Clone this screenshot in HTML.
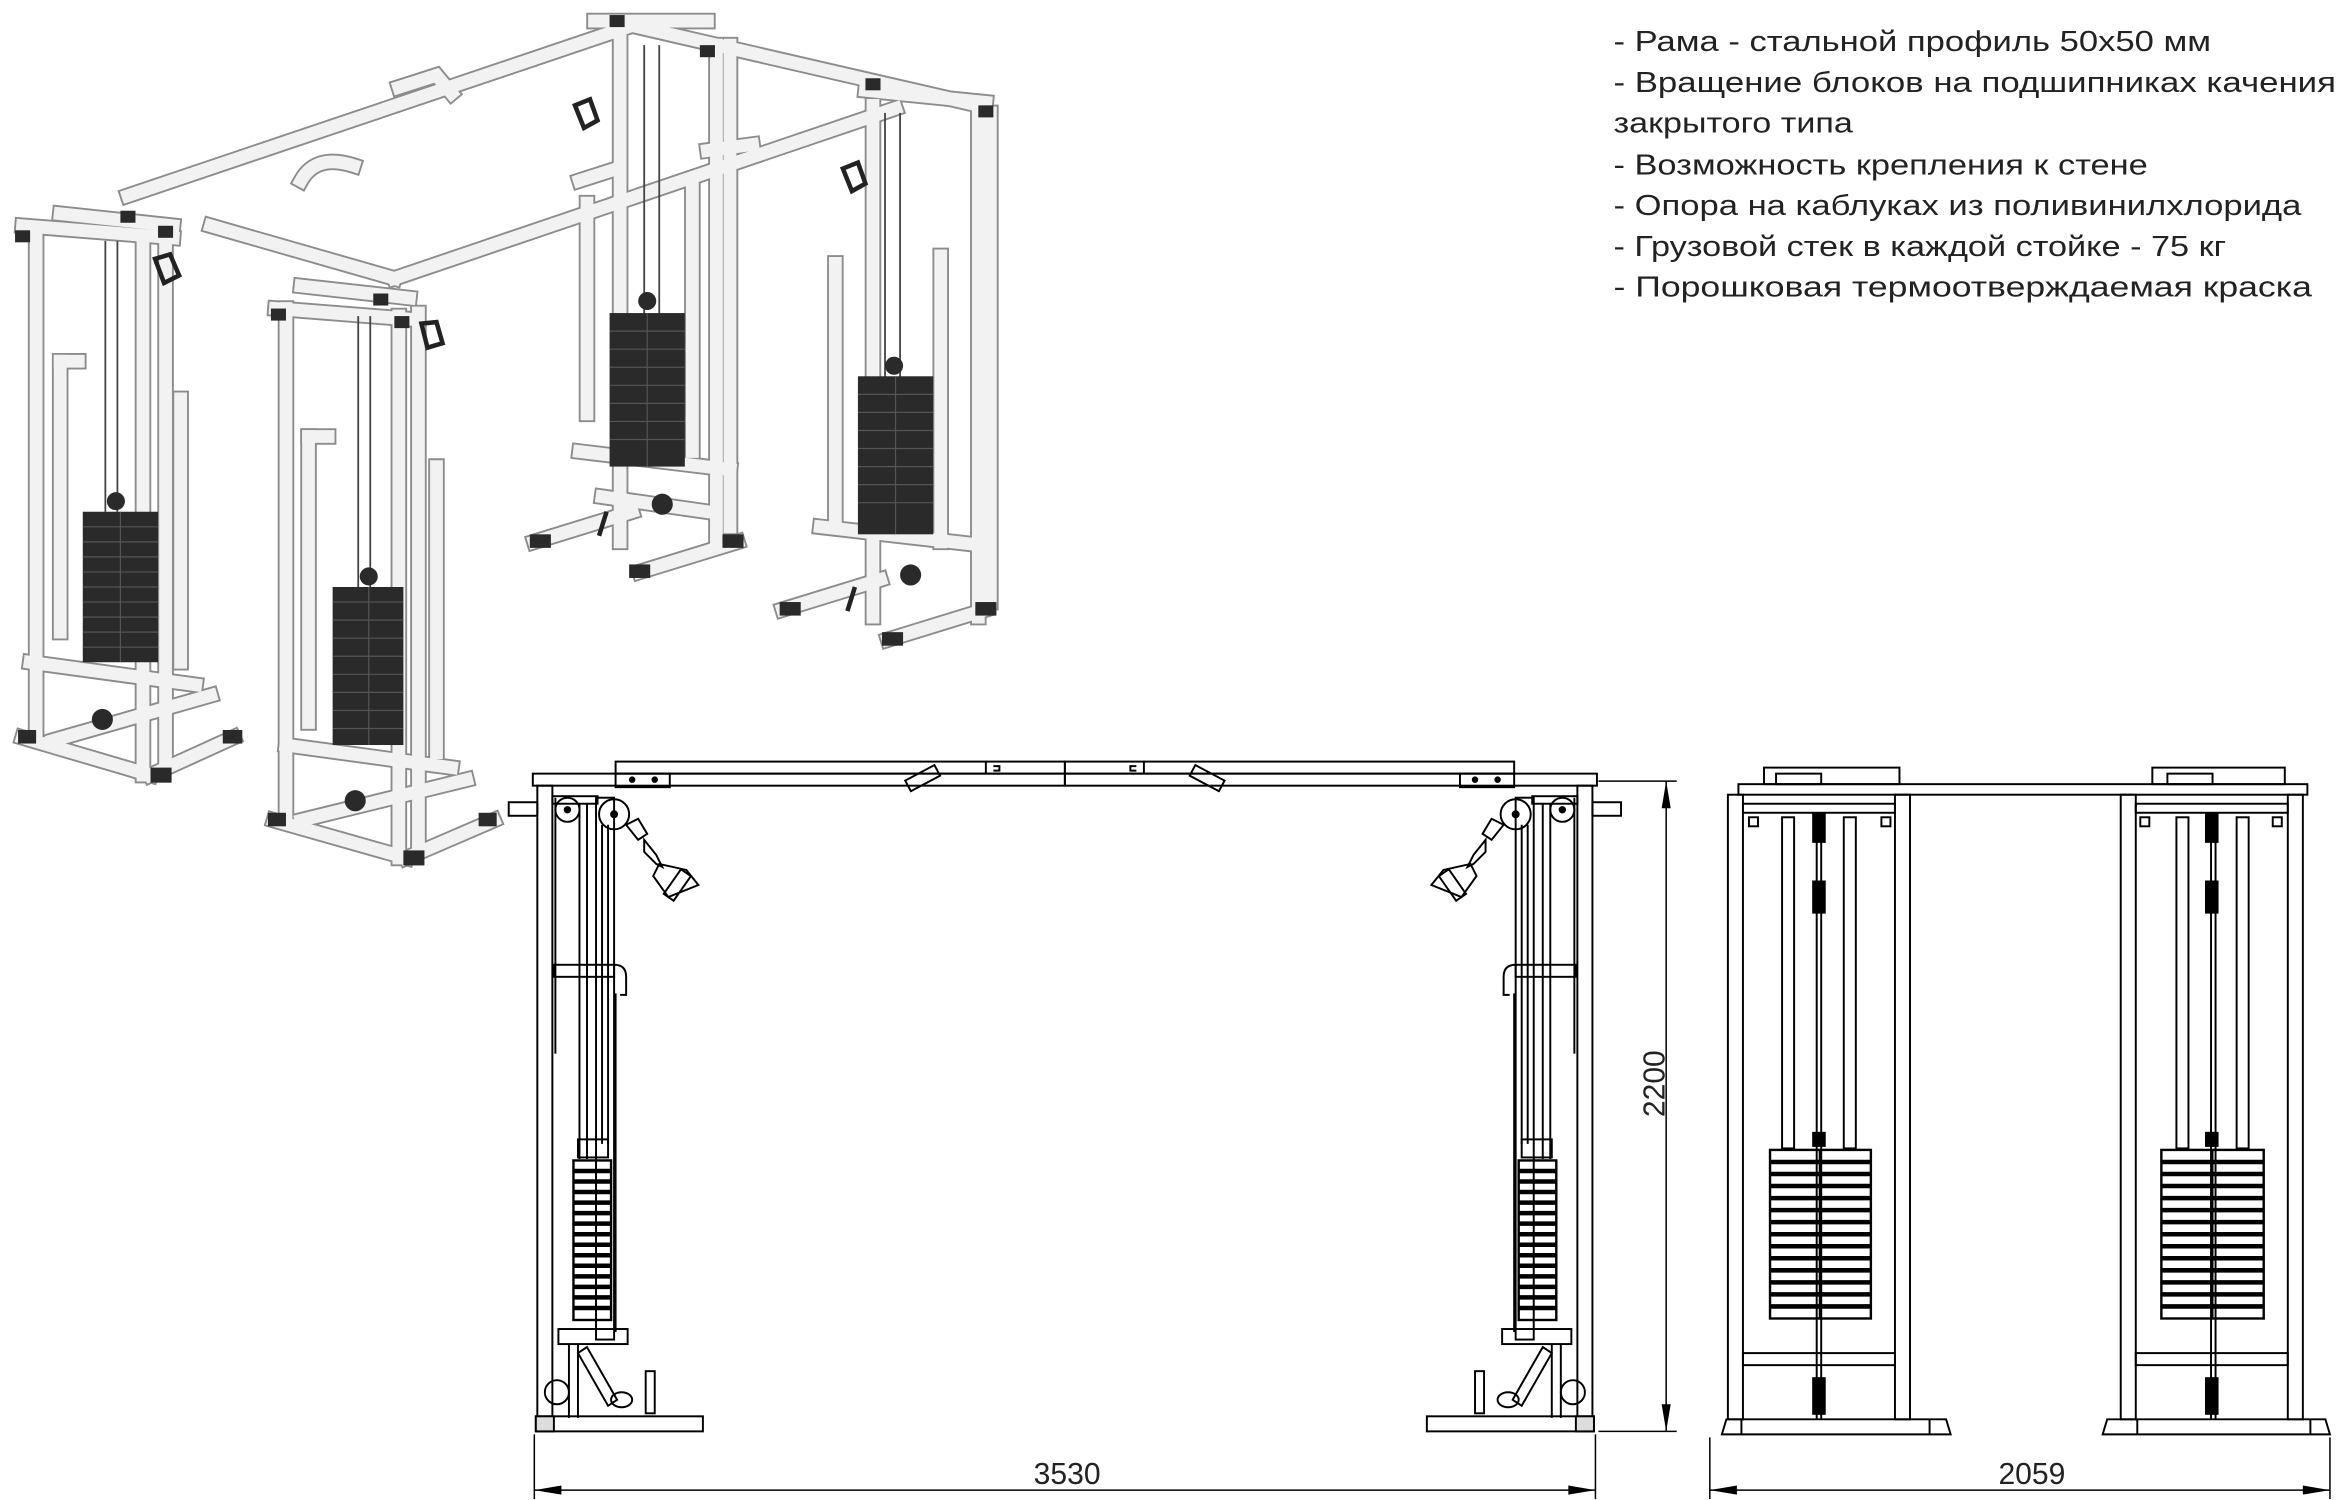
<!DOCTYPE html>
<html><head><meta charset="utf-8"><style>
html,body{margin:0;padding:0;background:#fff;}
svg{display:block;}
</style></head><body>
<svg width="2348" height="1500" viewBox="0 0 1560 996.6" preserveAspectRatio="none" xmlns="http://www.w3.org/2000/svg" xmlns:xlink="http://www.w3.org/1999/xlink">
<rect width="1560" height="997" fill="#fff"/>

<!-- ===== SPEC TEXT ===== -->
<g font-family="Liberation Sans, sans-serif" font-size="19" fill="#222">
<text x="1072" y="34" textLength="397" lengthAdjust="spacingAndGlyphs">- Рама - стальной профиль 50х50 мм</text>
<text x="1072" y="61" textLength="480" lengthAdjust="spacingAndGlyphs">- Вращение блоков на подшипниках качения</text>
<text x="1072" y="88" textLength="159" lengthAdjust="spacingAndGlyphs">закрытого типа</text>
<text x="1072" y="116" textLength="355" lengthAdjust="spacingAndGlyphs">- Возможность крепления к стене</text>
<text x="1072" y="143" textLength="457" lengthAdjust="spacingAndGlyphs">- Опора на каблуках из поливинилхлорида</text>
<text x="1072" y="170" textLength="407" lengthAdjust="spacingAndGlyphs">- Грузовой стек в каждой стойке - 75 кг</text>
<text x="1072" y="197" textLength="464" lengthAdjust="spacingAndGlyphs">- Порошковая термоотверждаемая краска</text>
</g>

<!-- ===== 3D RENDER ===== -->
<defs>
<g id="frame" fill="none" stroke-linecap="square">
  <line x1="85" y1="130" x2="420" y2="17"/>
  <line x1="140" y1="150" x2="262" y2="185"/>
  <line x1="262" y1="185" x2="595" y2="72"/>
  <line x1="420" y1="17" x2="650" y2="70"/>
  <line x1="395" y1="14" x2="470" y2="14"/>
  <line x1="575" y1="60" x2="655" y2="68"/>
  <line x1="15" y1="150" x2="115" y2="158"/>
  <line x1="40" y1="142" x2="115" y2="150"/>
  <line x1="24" y1="152" x2="24" y2="490"/>
  <line x1="95" y1="158" x2="95" y2="515"/>
  <line x1="110" y1="155" x2="110" y2="505"/>
  <line x1="40" y1="420" x2="40" y2="240"/>
  <line x1="40" y1="240" x2="52" y2="240"/>
  <line x1="120" y1="440" x2="120" y2="265"/>
  <line x1="20" y1="440" x2="130" y2="455"/>
  <line x1="15" y1="490" x2="100" y2="515"/>
  <line x1="100" y1="515" x2="155" y2="490"/>
  <line x1="35" y1="492" x2="140" y2="462"/>
  <line x1="183" y1="205" x2="272" y2="212"/>
  <line x1="200" y1="190" x2="272" y2="198"/>
  <line x1="190" y1="205" x2="190" y2="545"/>
  <line x1="265" y1="210" x2="265" y2="570"/>
  <line x1="278" y1="208" x2="278" y2="560"/>
  <line x1="205" y1="480" x2="205" y2="290"/>
  <line x1="205" y1="290" x2="218" y2="290"/>
  <line x1="290" y1="500" x2="290" y2="310"/>
  <line x1="190" y1="495" x2="300" y2="510"/>
  <line x1="182" y1="545" x2="270" y2="570"/>
  <line x1="270" y1="570" x2="328" y2="545"/>
  <line x1="200" y1="545" x2="310" y2="518"/>
  <line x1="412" y1="22" x2="412" y2="360"/>
  <line x1="476" y1="30" x2="476" y2="360"/>
  <line x1="485" y1="30" x2="485" y2="350"/>
  <line x1="390" y1="275" x2="390" y2="135"/>
  <line x1="460" y1="300" x2="460" y2="125"/>
  <line x1="385" y1="300" x2="485" y2="312"/>
  <line x1="355" y1="360" x2="420" y2="340"/>
  <line x1="425" y1="380" x2="490" y2="360"/>
  <line x1="400" y1="330" x2="470" y2="340"/>
  <line x1="580" y1="70" x2="580" y2="410"/>
  <line x1="650" y1="75" x2="650" y2="410"/>
  <line x1="658" y1="75" x2="658" y2="400"/>
  <line x1="555" y1="345" x2="555" y2="175"/>
  <line x1="625" y1="360" x2="625" y2="170"/>
  <line x1="545" y1="350" x2="650" y2="362"/>
  <line x1="520" y1="405" x2="585" y2="385"/>
  <line x1="590" y1="425" x2="655" y2="405"/>
  <path d="M200 120 Q210 102 235 110"/>
  <path d="M265 58 L290 50 L300 62"/>
  <path d="M385 120 L410 112"/>
  <path d="M470 100 L500 96"/>
</g>
</defs>
<use xlink:href="#frame" stroke="#8c8c8c" stroke-width="11"/>
<use xlink:href="#frame" stroke="#f2f2f2" stroke-width="8.5"/>

<g stroke="#444" stroke-width="1.2">
  <line x1="70" y1="160" x2="70" y2="340"/><line x1="78" y1="160" x2="78" y2="340"/>
  <line x1="238" y1="210" x2="238" y2="390"/><line x1="246" y1="210" x2="246" y2="390"/>
  <line x1="428" y1="30" x2="428" y2="210"/><line x1="438" y1="30" x2="438" y2="210"/>
  <line x1="588" y1="75" x2="588" y2="252"/><line x1="598" y1="75" x2="598" y2="252"/>
</g>
<g fill="#2a2a2a">
  <rect x="55" y="340" width="50" height="100"/>
  <rect x="221" y="390" width="47" height="105"/>
  <rect x="405" y="208" width="50" height="102"/>
  <rect x="570" y="250" width="50" height="105"/>
  <circle cx="77" cy="333" r="6"/><circle cx="245" cy="383" r="6"/>
  <circle cx="430" cy="200" r="6"/><circle cx="594" cy="243" r="6"/>
  <rect x="12" y="485" width="12" height="9"/><rect x="100" y="510" width="14" height="10"/><rect x="148" y="485" width="13" height="9"/>
  <rect x="178" y="540" width="12" height="9"/><rect x="268" y="565" width="14" height="10"/><rect x="318" y="540" width="12" height="9"/>
  <rect x="352" y="355" width="14" height="9"/><rect x="418" y="375" width="14" height="9"/><rect x="480" y="355" width="14" height="9"/>
  <rect x="518" y="400" width="14" height="9"/><rect x="586" y="420" width="14" height="9"/><rect x="648" y="400" width="14" height="9"/>
  <rect x="10" y="153" width="10" height="8"/><rect x="80" y="140" width="10" height="8"/><rect x="105" y="150" width="10" height="8"/>
  <rect x="180" y="205" width="10" height="8"/><rect x="248" y="195" width="10" height="8"/><rect x="262" y="210" width="10" height="8"/>
  <rect x="405" y="10" width="10" height="8"/><rect x="465" y="30" width="10" height="8"/>
  <rect x="575" y="52" width="10" height="8"/><rect x="650" y="70" width="10" height="8"/>
  <circle cx="68" cy="478" r="7"/><circle cx="236" cy="532" r="7"/><circle cx="440" cy="335" r="7"/><circle cx="605" cy="382" r="7"/>
</g>
<g stroke="#555" stroke-width="0.8">
  <line x1="55" y1="350" x2="105" y2="350"/><line x1="55" y1="360" x2="105" y2="360"/><line x1="55" y1="370" x2="105" y2="370"/><line x1="55" y1="380" x2="105" y2="380"/><line x1="55" y1="390" x2="105" y2="390"/><line x1="55" y1="400" x2="105" y2="400"/><line x1="55" y1="410" x2="105" y2="410"/><line x1="55" y1="420" x2="105" y2="420"/><line x1="55" y1="430" x2="105" y2="430"/><line x1="80" y1="340" x2="80" y2="440"/>
  <line x1="221" y1="400" x2="268" y2="400"/><line x1="221" y1="412" x2="268" y2="412"/><line x1="221" y1="424" x2="268" y2="424"/><line x1="221" y1="436" x2="268" y2="436"/><line x1="221" y1="448" x2="268" y2="448"/><line x1="221" y1="460" x2="268" y2="460"/><line x1="221" y1="472" x2="268" y2="472"/><line x1="221" y1="484" x2="268" y2="484"/><line x1="245" y1="390" x2="245" y2="495"/>
  <line x1="405" y1="220" x2="455" y2="220"/><line x1="405" y1="232" x2="455" y2="232"/><line x1="405" y1="244" x2="455" y2="244"/><line x1="405" y1="256" x2="455" y2="256"/><line x1="405" y1="268" x2="455" y2="268"/><line x1="405" y1="280" x2="455" y2="280"/><line x1="405" y1="292" x2="455" y2="292"/><line x1="430" y1="208" x2="430" y2="310"/>
  <line x1="570" y1="262" x2="620" y2="262"/><line x1="570" y1="274" x2="620" y2="274"/><line x1="570" y1="286" x2="620" y2="286"/><line x1="570" y1="298" x2="620" y2="298"/><line x1="570" y1="310" x2="620" y2="310"/><line x1="570" y1="322" x2="620" y2="322"/><line x1="570" y1="334" x2="620" y2="334"/><line x1="595" y1="250" x2="595" y2="355"/>
</g>
<g fill="none" stroke="#222" stroke-width="3">
  <path d="M103 172 l6 16 l10 -5 l-6 -14z"/><path d="M280 215 l4 16 l10 -3 l-4 -14z"/>
  <path d="M382 70 l6 15 l9 -5 l-5 -14z"/><path d="M560 112 l6 15 l9 -5 l-5 -14z"/>
  <path d="M403 340 l-5 16 M568 390 l-5 16"/>
</g>

<!-- ===== FRONT VIEW (CAD) ===== -->
<g id="half" fill="none" stroke="#000" stroke-width="1.3">
  <rect x="354" y="514" width="353.5" height="8"/>
  <rect x="409" y="506" width="298.5" height="8"/>
  <rect x="409" y="514" width="36" height="9"/>
  <circle cx="420" cy="518" r="1.5" fill="#000"/><circle cx="435" cy="518" r="1.5" fill="#000"/>
  <!-- angled handle on top bar -->
  <rect x="602" y="513" width="22" height="8" transform="rotate(-28 613 517)"/>
  <line x1="655" y1="506" x2="655" y2="514"/><path d="M660 509 h4 v3 h-4"/>
  <rect x="357" y="522" width="10" height="420"/>
  <rect x="396" y="530" width="12" height="360"/>
  <rect x="367" y="529" width="30" height="5"/>
  <line x1="385" y1="534" x2="385" y2="770"/>
  <line x1="390" y1="534" x2="390" y2="770"/>
  <line x1="400" y1="548" x2="400" y2="760"/>
  <line x1="404" y1="548" x2="404" y2="760"/>
  <line x1="369" y1="530" x2="369" y2="700"/>
  <rect x="338" y="533" width="19" height="9"/>
  <circle cx="377" cy="538" r="8"/><circle cx="377" cy="538" r="1.8" fill="#000"/>
  <circle cx="408" cy="541" r="10"/><circle cx="408" cy="541" r="2" fill="#000"/>
  <path d="M416 548 l8 10 l6 -4 l-6 -10z"/>
  <path d="M428 558 l8 10 l4 8 l-4 -2 l-8 -8z"/>
  <path d="M438 574 l-4 8 l10 14 l20 -8 l-8 -10z"/>
  <rect x="446" y="578" width="8" height="20" transform="rotate(35 450 588)"/>
  <rect x="368" y="641" width="40" height="8"/>
  <path d="M408 641 q8 0 8 8 v12 h-4"/>
  <line x1="409" y1="660" x2="409" y2="885"/>
  <rect x="384" y="757" width="20" height="12"/>
  <rect x="381" y="771" width="25" height="106" stroke-width="1.6"/>
  <g stroke-width="3">
  <line x1="381" y1="778" x2="406" y2="778"/><line x1="381" y1="785" x2="406" y2="785"/><line x1="381" y1="792" x2="406" y2="792"/><line x1="381" y1="799" x2="406" y2="799"/><line x1="381" y1="806" x2="406" y2="806"/><line x1="381" y1="813" x2="406" y2="813"/><line x1="381" y1="820" x2="406" y2="820"/><line x1="381" y1="827" x2="406" y2="827"/><line x1="381" y1="834" x2="406" y2="834"/><line x1="381" y1="841" x2="406" y2="841"/><line x1="381" y1="848" x2="406" y2="848"/><line x1="381" y1="855" x2="406" y2="855"/><line x1="381" y1="862" x2="406" y2="862"/><line x1="381" y1="869" x2="406" y2="869"/>
  </g>
  <rect x="371" y="883" width="46" height="10"/>
  <line x1="378" y1="893" x2="378" y2="942"/><line x1="384" y1="893" x2="384" y2="942"/>
  <path d="M390 895 l20 35 l-6 4 l-20 -35z"/>
  <circle cx="370" cy="925" r="8"/>
  <ellipse cx="413" cy="930" rx="7" ry="5"/>
  <rect x="429" y="911" width="6" height="28"/>
  <rect x="356" y="941" width="111" height="10"/>
  <rect x="356" y="941" width="12" height="10" fill="#ddd"/>
</g>
<use xlink:href="#half" transform="translate(1415 0) scale(-1 1)"/>

<g stroke="#000" stroke-width="1" fill="none">
  <line x1="1062" y1="519" x2="1114" y2="519"/>
  <line x1="1062" y1="951" x2="1114" y2="951"/>
  <line x1="1107" y1="519" x2="1107" y2="951"/>
  <line x1="355" y1="953" x2="355" y2="996"/>
  <line x1="1060" y1="953" x2="1060" y2="996"/>
  <line x1="355" y1="990" x2="1060" y2="990"/>
</g>
<g fill="#000">
  <path d="M1107 519 l-3 18 h6z"/><path d="M1107 951 l-3 -18 h6z"/>
  <path d="M355 990 l18 -3 v6z"/><path d="M1060 990 l-18 -3 v6z"/>
</g>
<g font-family="Liberation Sans, sans-serif" font-size="20" fill="#222" text-anchor="middle">
<text x="709" y="986">3530</text>
<text x="0" y="0" transform="translate(1106 720) rotate(-90)">2200</text>
<text x="1350" y="986">2059</text>
</g>

<!-- ===== SIDE VIEW ===== -->
<g fill="none" stroke="#000" stroke-width="1.3">
  <rect x="1155" y="521" width="378" height="7"/>
  <rect x="1172" y="510" width="90" height="11"/><rect x="1430" y="510" width="88" height="11"/>
  <rect x="1180" y="514" width="30" height="7"/><rect x="1440" y="514" width="30" height="7"/>
  <rect x="1148" y="528" width="10" height="415"/>
  <rect x="1259" y="528" width="10" height="415"/>
  <rect x="1158" y="534" width="101" height="6"/>
  <rect x="1158" y="899" width="101" height="8"/>
  <rect x="1184" y="543" width="8" height="220"/>
  <rect x="1225" y="543" width="8" height="220"/>
  <line x1="1207" y1="540" x2="1207" y2="943"/><line x1="1210" y1="540" x2="1210" y2="943"/>
  <rect x="1176" y="764" width="67" height="112" stroke-width="1.6"/>
  <line x1="1209" y1="764" x2="1209" y2="876"/>
  <rect x="1409" y="528" width="10" height="415"/>
  <rect x="1520" y="528" width="10" height="415"/>
  <rect x="1419" y="534" width="101" height="6"/>
  <rect x="1419" y="899" width="101" height="8"/>
  <rect x="1446" y="543" width="8" height="220"/>
  <rect x="1486" y="543" width="8" height="220"/>
  <line x1="1469" y1="540" x2="1469" y2="943"/><line x1="1472" y1="540" x2="1472" y2="943"/>
  <rect x="1436" y="764" width="68" height="112" stroke-width="1.6"/>
  <line x1="1470" y1="764" x2="1470" y2="876"/>
  <path d="M1144 953 l3 -10 h146 l3 10z"/>
  <line x1="1157" y1="943" x2="1157" y2="953"/><line x1="1282" y1="943" x2="1282" y2="953"/>
  <path d="M1397 953 l3 -10 h145 l3 10z"/>
  <line x1="1420" y1="943" x2="1420" y2="953"/><line x1="1535" y1="943" x2="1535" y2="953"/>
  <rect x="1162" y="543" width="6" height="6"/><rect x="1250" y="543" width="6" height="6"/>
  <rect x="1422" y="543" width="6" height="6"/><rect x="1510" y="543" width="6" height="6"/>
</g>
<g stroke="#000" stroke-width="3">
  <line x1="1176" y1="772" x2="1243" y2="772"/><line x1="1176" y1="780" x2="1243" y2="780"/><line x1="1176" y1="788" x2="1243" y2="788"/><line x1="1176" y1="796" x2="1243" y2="796"/><line x1="1176" y1="804" x2="1243" y2="804"/><line x1="1176" y1="812" x2="1243" y2="812"/><line x1="1176" y1="820" x2="1243" y2="820"/><line x1="1176" y1="828" x2="1243" y2="828"/><line x1="1176" y1="836" x2="1243" y2="836"/><line x1="1176" y1="844" x2="1243" y2="844"/><line x1="1176" y1="852" x2="1243" y2="852"/><line x1="1176" y1="860" x2="1243" y2="860"/><line x1="1176" y1="868" x2="1243" y2="868"/>
  <line x1="1436" y1="772" x2="1504" y2="772"/><line x1="1436" y1="780" x2="1504" y2="780"/><line x1="1436" y1="788" x2="1504" y2="788"/><line x1="1436" y1="796" x2="1504" y2="796"/><line x1="1436" y1="804" x2="1504" y2="804"/><line x1="1436" y1="812" x2="1504" y2="812"/><line x1="1436" y1="820" x2="1504" y2="820"/><line x1="1436" y1="828" x2="1504" y2="828"/><line x1="1436" y1="836" x2="1504" y2="836"/><line x1="1436" y1="844" x2="1504" y2="844"/><line x1="1436" y1="852" x2="1504" y2="852"/><line x1="1436" y1="860" x2="1504" y2="860"/><line x1="1436" y1="868" x2="1504" y2="868"/>
</g>
<g fill="#000">
  <rect x="1204" y="540" width="9" height="20"/><rect x="1204" y="585" width="9" height="22"/><rect x="1204" y="752" width="9" height="10"/><rect x="1204" y="915" width="9" height="25"/>
  <rect x="1465" y="540" width="9" height="20"/><rect x="1465" y="585" width="9" height="22"/><rect x="1465" y="752" width="9" height="10"/><rect x="1465" y="915" width="9" height="25"/>
</g>
<g stroke="#000" stroke-width="1" fill="none">
  <line x1="1136" y1="955" x2="1136" y2="996"/><line x1="1548" y1="955" x2="1548" y2="996"/>
  <line x1="1136" y1="990" x2="1548" y2="990"/>
</g>
<g fill="#000"><path d="M1136 990 l18 -3 v6z"/><path d="M1548 990 l-18 -3 v6z"/></g>
</svg>
</body></html>
